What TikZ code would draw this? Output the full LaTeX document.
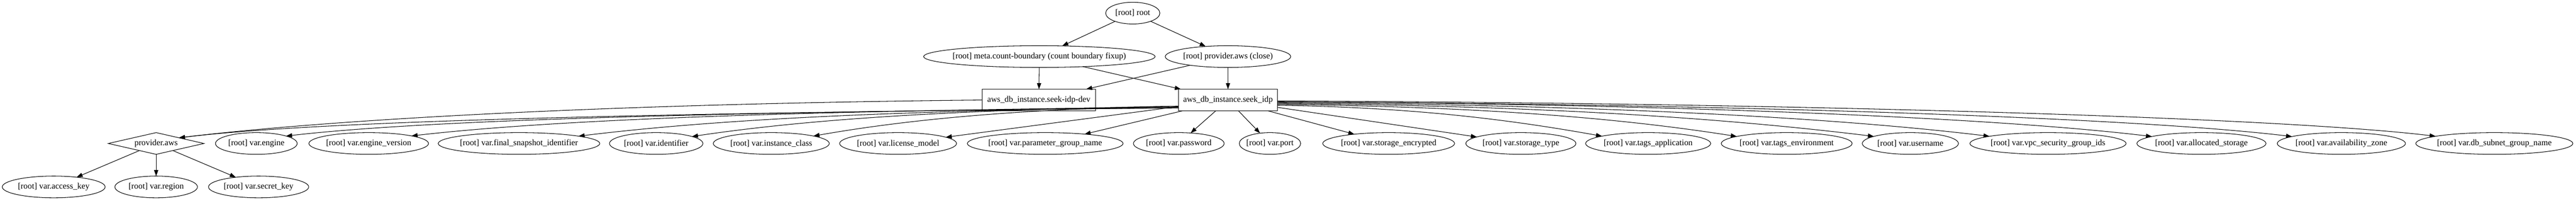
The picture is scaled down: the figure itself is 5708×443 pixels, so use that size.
\documentclass[tikz,border=0pt]{standalone}
\usepackage{fontspec}
\setmainfont{Liberation Serif}
\usetikzlibrary{shapes.geometric,arrows.meta}
\newcommand\gvt[1]{\makebox[0pt]{#1}}
\begin{document}
\begin{tikzpicture}[x=0.75pt,y=-0.75pt,
  every node/.style={font=\fontsize{14pt}{16pt}\selectfont, inner sep=0pt, outer sep=0pt},
  ell/.style={draw, ellipse, minimum height=36pt, minimum width=#1*0.75pt, line width=0.9pt},
  gbox/.style={draw, rectangle, minimum height=36pt, minimum width=#1*0.75pt, line width=0.9pt},
  dia/.style={draw, diamond, minimum height=36pt, minimum width=#1*0.75pt, line width=0.9pt},
  gedge/.style={line width=0.9pt, -{Triangle[length=10pt,width=7pt]}},
]
\useasboundingbox (0,0) rectangle (5708,443);
% rank 0-2
\node[ell=120] (root) at (2510,29) {\gvt{[root] root}};
\node[ell=513] (meta) at (2303,125) {\gvt{[root] meta.count-boundary (count boundary fixup)}};
\node[ell=278] (pclose) at (2721,125) {\gvt{[root] provider.aws (close)}};
\node[gbox=251] (dev) at (2302,221) {\gvt{aws\_db\_instance.seek-idp-dev}};
\node[gbox=220] (seek) at (2721,221) {\gvt{aws\_db\_instance.seek\_idp}};
% rank 3
\node[dia=212] (paws) at (346,317) {\gvt{provider.aws}};
\node[ell=181] (engine) at (568,317) {\gvt{[root] var.engine}};
\node[ell=265] (engver) at (817,317) {\gvt{[root] var.engine\_version}};
\node[ell=358] (final) at (1150,317) {\gvt{[root] var.final\_snapshot\_identifier}};
\node[ell=207] (ident) at (1454,317) {\gvt{[root] var.identifier}};
\node[ell=257] (iclass) at (1709,317) {\gvt{[root] var.instance\_class}};
\node[ell=259] (license) at (1990,317) {\gvt{[root] var.license\_model}};
\node[ell=345] (pgroup) at (2316,317) {\gvt{[root] var.parameter\_group\_name}};
\node[ell=201] (pw) at (2612,317) {\gvt{[root] var.password}};
\node[ell=136] (port) at (2814,317) {\gvt{[root] var.port}};
\node[ell=292] (senc) at (3077,317) {\gvt{[root] var.storage\_encrypted}};
\node[ell=244] (stype) at (3370,317) {\gvt{[root] var.storage\_type}};
\node[ell=277] (tapp) at (3652,317) {\gvt{[root] var.tags\_application}};
\node[ell=290] (tenv) at (3959,317) {\gvt{[root] var.tags\_environment}};
\node[ell=213] (user) at (4233,317) {\gvt{[root] var.username}};
\node[ell=346] (vpc) at (4538,317) {\gvt{[root] var.vpc\_security\_group\_ids}};
\node[ell=286] (alloc) at (4878,317) {\gvt{[root] var.allocated\_storage}};
\node[ell=284] (az) at (5188,317) {\gvt{[root] var.availability\_zone}};
\node[ell=348] (subnet) at (5527,317) {\gvt{[root] var.db\_subnet\_group\_name}};
% rank 4
\node[ell=228] (akey) at (119,413) {\gvt{[root] var.access\_key}};
\node[ell=183] (region) at (346,413) {\gvt{[root] var.region}};
\node[ell=222] (skey) at (573,413) {\gvt{[root] var.secret\_key}};
% edges top
\draw[gedge] (root) -- (meta);
\draw[gedge] (root) -- (pclose);
\draw[gedge] (meta) -- (dev);
\draw[gedge] (meta) -- (seek);
\draw[gedge] (pclose) -- (dev);
\draw[gedge] (pclose) -- (seek);
% to provider.aws
\draw[gedge] (dev.west) .. controls +(-800,8) and +(350,-42) .. (paws.14);
\draw[gedge] (seek.189) .. controls +(-995,10) and +(350,-42) .. (paws.14);
% left vars
\draw[gedge] (seek.189) .. controls +(-890,8) and +(350,-40) .. (engine.14);
\draw[gedge] (seek.188) .. controls +(-765,8) and +(350,-40) .. (engver.10);
\draw[gedge] (seek.188) .. controls +(-600,8) and +(330,-40) .. (final.7);
\draw[gedge] (seek.187) .. controls +(-485,8) and +(270,-40) .. (ident.11);
\draw[gedge] (seek.187) .. controls +(-364,6) and +(200,-35) .. (iclass.10);
\draw[gedge] (seek) -- (license);
\draw[gedge] (seek) -- (pgroup);
\draw[gedge] (seek) -- (pw);
\draw[gedge] (seek) -- (port);
\draw[gedge] (seek) -- (senc);
\draw[gedge] (seek) -- (stype);
% right vars
\draw[gedge] (seek.354) .. controls +(323,5) and +(-180,-32) .. (tapp.171);
\draw[gedge] (seek.355) .. controls +(459,5) and +(-255,-40) .. (tenv.172);
\draw[gedge] (seek.356) .. controls +(595,5) and +(-330,-40) .. (user.169);
\draw[gedge] (seek.357) .. controls +(710,5) and +(-350,-42) .. (vpc.173);
\draw[gedge] (seek.358) .. controls +(873,5) and +(-350,-42) .. (alloc.172);
\draw[gedge] (seek.358) .. controls +(1012,5) and +(-350,-42) .. (az.172);
\draw[gedge] (seek.359) .. controls +(1157,5) and +(-350,-42) .. (subnet.173);
% provider children
\draw[gedge] (paws) -- (akey);
\draw[gedge] (paws) -- (region);
\draw[gedge] (paws) -- (skey);
\end{tikzpicture}
\end{document}
